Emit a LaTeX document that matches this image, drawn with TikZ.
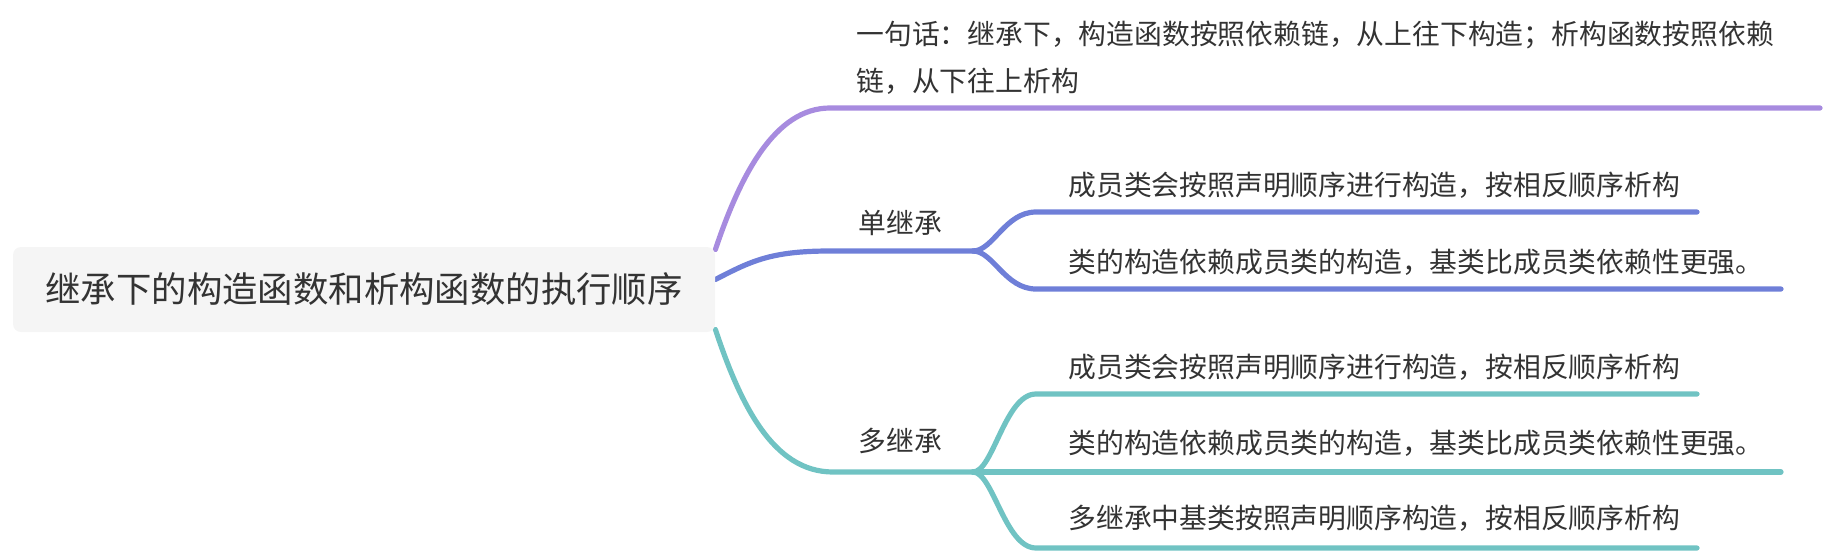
\documentclass[tikz,border=0pt]{standalone}
\usepackage{fontspec}
\setmainfont{Noto Sans CJK SC}
\usetikzlibrary{calc,backgrounds}
\definecolor{purp}{HTML}{A78BDF}
\definecolor{blu}{HTML}{6F7FD8}
\definecolor{tea}{HTML}{70C3C3}
\definecolor{txt}{HTML}{333333}
\definecolor{rootfill}{HTML}{F5F5F5}
\tikzset{
	branch/.style={line width=2.6pt, line cap=round},
	leaf/.style={anchor=base west, inner sep=0pt, text=txt, font=\fontsize{13.9}{23.5}\selectfont},
	topic/.style={fill=rootfill, rounded corners=4pt, inner sep=0pt, text=txt, font=\fontsize{17.7}{20}\selectfont},
}
\begin{document}
\begin{tikzpicture}[x=0.5pt,y=-0.5pt]
	\useasboundingbox (0,0) rectangle (1832,552);
	\node[topic, minimum width=351pt, minimum height=42.5pt] (root) at (364,289.5) {继承下的构造函数和析构函数的执行顺序};
	% texts
	\node[leaf, align=left, anchor=north west] (summary) at (856,20.5) {一句话：继承下，构造函数按照依赖链，从上往下构造；析构函数按照依赖\\链，从下往上析构};
	\node[leaf] (single) at (858,233.6) {单继承};
	\node[leaf] (multi) at (858,451.6) {多继承};
	\node[leaf] (s1) at (1068,195.6) {成员类会按照声明顺序进行构造，按相反顺序析构};
	\node[leaf] (s2) at (1068,272.6) {类的构造依赖成员类的构造，基类比成员类依赖性更强。};
	\node[leaf] (m1) at (1068,377.6) {成员类会按照声明顺序进行构造，按相反顺序析构};
	\node[leaf] (m2) at (1068,453.6) {类的构造依赖成员类的构造，基类比成员类依赖性更强。};
	\node[leaf] (m3) at (1068,528.6) {多继承中基类按照声明顺序构造，按相反顺序析构};
	% line ends
	\coordinate (sumStart) at (830,108);
	\coordinate (sumEnd) at (1820,108);
	\coordinate (singleStart) at (830,251);
	\coordinate (singleFork) at (973,251);
	\coordinate (s1Start) at (1036,212);
	\coordinate (s1End) at (1697,212);
	\coordinate (s2Start) at (1036,289);
	\coordinate (s2End) at (1781,289);
	\coordinate (multiStart) at (833,472);
	\coordinate (multiFork) at (973,472);
	\coordinate (m1Start) at (1036,394);
	\coordinate (m1End) at (1697,394);
	\coordinate (m2End) at (1781,472);
	\coordinate (m3Start) at (1036,548);
	\coordinate (m3End) at (1697,548);
	\begin{scope}[on background layer]
		\draw[branch, purp] ($(root.east)+(0,-40)$) .. controls +(25,-74.5) and +(-55,0) .. (sumStart) -- (sumEnd);
		\draw[branch, blu] ($(root.east)+(0,-10)$) .. controls +(35,-18) and +(-60,0) .. (singleStart) -- (singleFork);
		\draw[branch, blu] (singleFork) .. controls +(20,0) and +(-31,0) .. (s1Start) -- (s1End);
		\draw[branch, blu] (singleFork) .. controls +(20,0) and +(-31,0) .. (s2Start) -- (s2End);
		\draw[branch, tea] ($(root.east)+(0,40)$) .. controls +(25,75) and +(-60,0) .. (multiStart) -- (multiFork);
		\draw[branch, tea] (multiFork) .. controls +(20,0) and +(-31,0) .. (m1Start) -- (m1End);
		\draw[branch, tea] (multiFork) -- (m2End);
		\draw[branch, tea] (multiFork) .. controls +(20,0) and +(-31,0) .. (m3Start) -- (m3End);
	\end{scope}
\end{tikzpicture}
\end{document}
